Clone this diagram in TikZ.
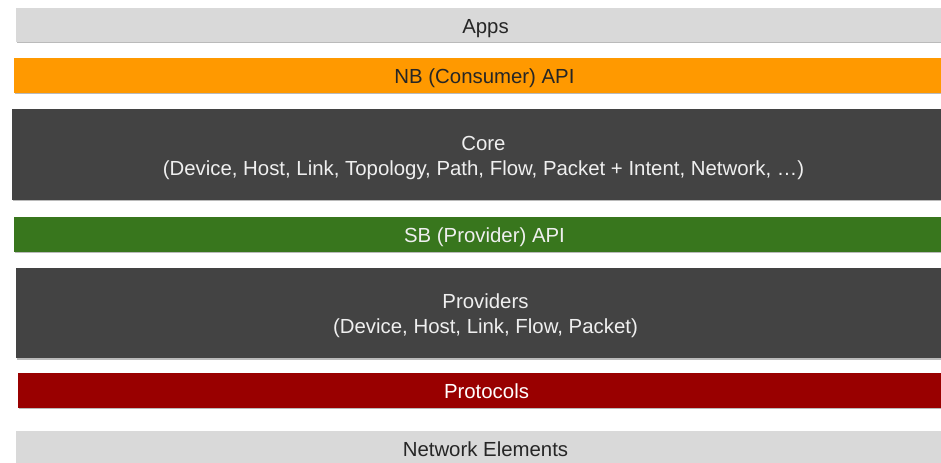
\documentclass[tikz,border=0pt]{standalone}
\usepackage{fontspec}
\setmainfont{Liberation Sans}
\usetikzlibrary{shadows}
\definecolor{layergray}{HTML}{D9D9D9}
\definecolor{layerorange}{HTML}{FF9900}
\definecolor{layerdark}{HTML}{434343}
\definecolor{layergreen}{HTML}{38761D}
\definecolor{layerred}{HTML}{990000}
\definecolor{inkdark}{HTML}{262626}
\definecolor{inklight}{HTML}{EFEFEF}
\tikzset{
  layer/.style={rectangle, inner sep=0pt, align=center,
    font=\fontsize{11.6}{14.2}\selectfont,
    drop shadow={shadow xshift=0.8pt, shadow yshift=-0.8pt, opacity=0.45, fill=black!60}},
  thinlayer/.style={layer, minimum height=0.70cm, text height=9.6pt, text depth=0pt},
  thicklayer/.style={layer, minimum height=1.81cm, fill=layerdark, text=inklight,
    text height=23.7pt, text depth=0pt},
}
\begin{document}
\begin{tikzpicture}[x=0.02cm, y=-0.02cm]
  \useasboundingbox (0,0) rectangle (941,463);
  \clip (0,0) rectangle (941,463);
  % stack of layers, top to bottom
  \node[thinlayer, minimum height=0.68cm, minimum width=18.78cm, fill=layergray, text=inkdark] (apps) at (485.5,25) {Apps};
  \node[thinlayer, minimum width=18.82cm, fill=layerorange, text=inkdark] (nbapi) at (484.5,75.5) {NB (Consumer) API};
  \node[thicklayer, minimum height=1.82cm, minimum width=18.86cm] (core) at (483.5,154.5)
    {Core\\(Device, Host, Link, Topology, Path, Flow, Packet + Intent, Network, \dots)};
  \node[thinlayer, minimum width=18.82cm, fill=layergreen, text=inklight] (sbapi) at (484.5,234.5) {SB (Provider) API};
  \node[thicklayer, minimum width=18.78cm] (providers) at (485.5,313)
    {Providers\\(Device, Host, Link, Flow, Packet)};
  \node[thinlayer, minimum width=18.74cm, fill=layerred, text=white] (protocols) at (486.5,390.5) {Protocols};
  \node[thinlayer, minimum width=18.78cm, fill=layergray, text=inkdark] (netelems) at (485.5,448.5) {Network Elements};
\end{tikzpicture}
\end{document}
